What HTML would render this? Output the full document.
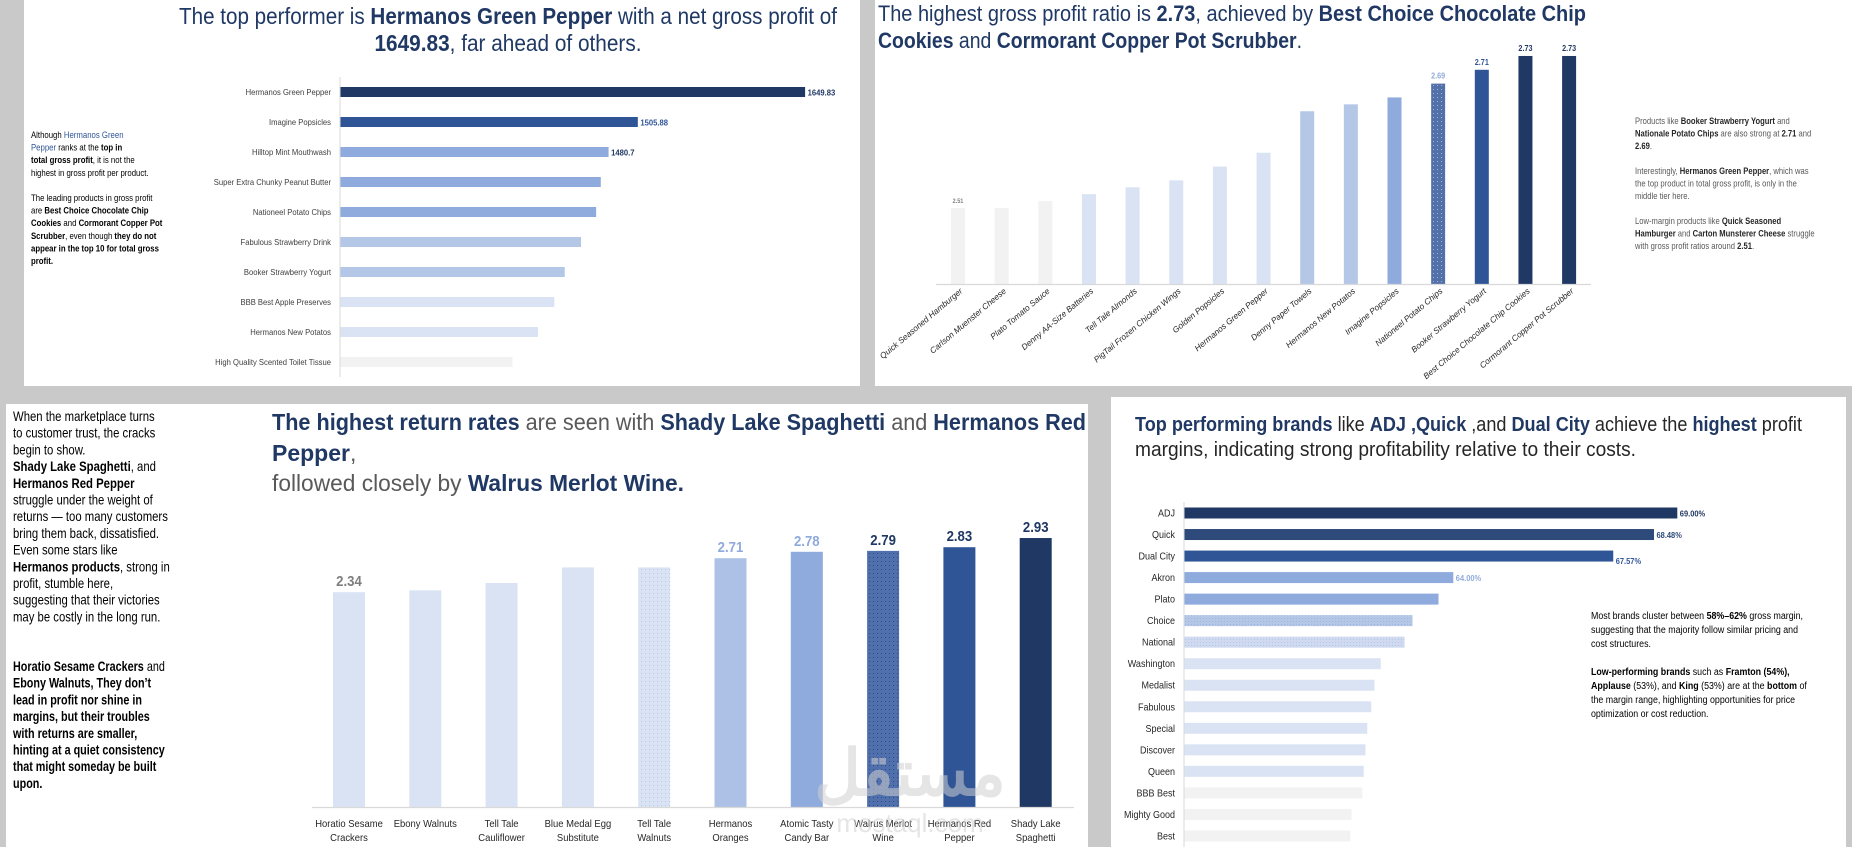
<!DOCTYPE html>
<html><head><meta charset="utf-8"><style>
html,body{margin:0;padding:0;background:#c9c9c9;}
svg{display:block;font-family:"Liberation Sans",sans-serif;}
</style></head><body>
<svg id="s" width="1852" height="847" viewBox="0 0 1852 847" xmlns="http://www.w3.org/2000/svg">
<defs>
<pattern id="dots1" width="4" height="4" patternUnits="userSpaceOnUse"><rect width="4" height="4" fill="#5470a8"/><rect x="1" y="1" width="1" height="1" fill="#9fb3d9"/></pattern>
<pattern id="dots2" width="4" height="4" patternUnits="userSpaceOnUse"><rect width="4" height="4" fill="#dae3f3"/><rect x="1" y="1" width="1" height="1" fill="#b9c9e6"/></pattern>
<pattern id="dots3" width="4" height="4" patternUnits="userSpaceOnUse"><rect width="4" height="4" fill="#4f6fad"/><rect x="1" y="1" width="1" height="1" fill="#2f4b7c"/></pattern>
<pattern id="hatch" width="3" height="3" patternUnits="userSpaceOnUse"><rect width="3" height="3" fill="#b4c7e7"/><rect width="1" height="1" fill="#9db4df"/></pattern>
<pattern id="dots4" width="3" height="3" patternUnits="userSpaceOnUse"><rect width="3" height="3" fill="#cfdaf0"/><rect width="1" height="1" fill="#b4c7e7"/></pattern>
</defs>
<rect x="0" y="0" width="1852" height="847" fill="#c9c9c9"/>
<rect x="24" y="0" width="836" height="386" fill="#fff"/>
<rect x="875" y="0" width="977" height="386" fill="#fff"/>
<rect x="6" y="404" width="1082" height="443" fill="#fff"/>
<rect x="1111" y="397" width="735" height="450" fill="#fff"/>
<g id="root"></g>
</svg>
<script>
// ---------- data ----------
const p1Cats = ["Hermanos Green Pepper","Imagine Popsicles","Hilltop Mint Mouthwash","Super Extra Chunky Peanut Butter","Nationeel Potato Chips","Fabulous Strawberry Drink","Booker Strawberry Yogurt","BBB Best Apple Preserves","Hermanos New Potatos","High Quality Scented Toilet Tissue"];
const p1Vals = [1649.83,1505.88,1480.7,1474,1470,1457,1443,1434,1420,1398];
const p1Labels = ["1649.83","1505.88","1480.7","","","","","","",""];

const p2Cats = ["Quick Seasoned Hamburger","Carlson Muenster Cheese","Plato Tomato Sauce","Denny AA-Size Batteries","Tell Tale Almonds","PigTail Frozen Chicken Wings","Golden Popsicles","Hermanos Green Pepper","Denny Paper Towels","Hermanos New Potatos","Imagine Popsicles","Nationeel Potato Chips","Booker Strawberry Yogurt","Best Choice Chocolate Chip Cookies","Cormorant Copper Pot Scrubber"];
const p2Vals = [2.51,2.51,2.52,2.53,2.54,2.55,2.57,2.59,2.65,2.66,2.67,2.69,2.71,2.73,2.73];
const p2Labels = ["2.51","","","","","","","","","","","2.69","2.71","2.73","2.73"];

const p3Cats = [["Horatio Sesame","Crackers"],["Ebony Walnuts",""],["Tell Tale","Cauliflower"],["Blue Medal Egg","Substitute"],["Tell Tale","Walnuts"],["Hermanos","Oranges"],["Atomic Tasty","Candy Bar"],["Walrus Merlot","Wine"],["Hermanos Red","Pepper"],["Shady Lake","Spaghetti"]];
const p3Vals = [2.34,2.36,2.44,2.61,2.61,2.71,2.78,2.79,2.83,2.93];
const p3Labels = ["2.34","","","","","2.71","2.78","2.79","2.83","2.93"];

const p4Cats = ["ADJ","Quick","Dual City","Akron","Plato","Choice","National","Washington","Medalist","Fabulous","Special","Discover","Queen","BBB Best","Mighty Good","Best"];
const p4Vals = [69.00,68.48,67.57,64.00,63.67,63.09,62.91,62.38,62.24,62.17,62.08,62.04,62.00,61.97,61.73,61.70];
const p4Labels = ["69.00%","68.48%","67.57%","64.00%","","","","","","","","","","","",""];

// ---------- helpers ----------
const NS="http://www.w3.org/2000/svg";
const root=document.getElementById('root');
function mk(tag,attrs,parent){const e=document.createElementNS(NS,tag);for(const k in attrs)e.setAttribute(k,attrs[k]);(parent||root).appendChild(e);return e;}
function txt(x,y,parts,size,opts,name){
  opts=opts||{};
  const g=mk('g',{transform:`translate(${x},${y}) scale(${opts.sx||1},1)`});
  const t=mk('text',{x:0,y:0,'font-size':size,'text-anchor':opts.anchor||'start',fill:opts.fill||'#262626'},g);
  
  
  if(opts.len){t.setAttribute('textLength',opts.len);t.setAttribute('lengthAdjust','spacingAndGlyphs');}
  if(opts.italic)t.setAttribute('font-style','italic');
  if(opts.bold)t.setAttribute('font-weight','bold');
  for(const p of parts){const s=mk('tspan',{},t);s.textContent=p[0];if(p[1])s.setAttribute('font-weight','bold');if(p[2])s.setAttribute('fill',p[2]);}
  return t;
}
const D="#203864", M="#2f5597", G="#595959";

// ---------- panel 1 ----------
txt(179,24,[["The top performer is ",0,"#1f3864"],["Hermanos Green Pepper",1,D],[" with a net gross profit of",0,"#1f3864"]],23,{len:658},'title-top-performer-line1');
txt(508,51,[["1649.83",1,D],[", far ahead of others.",0,"#1f3864"]],23,{anchor:'middle',len:267},'title-top-performer-line2');
const p1Col=["#203864","#2f5597","#8faadc","#8faadc","#8faadc","#b4c7e7","#b4c7e7","#dae3f3","#dae3f3","#f2f2f2"];
const p1x0=340, p1min=1250, p1k=1.162;
function p1X(v){return p1x0+(v-p1min)*p1k;}
function p1Y(i){return 92+i*30;}
mk('line',{x1:p1x0,y1:77,x2:p1x0,y2:377,stroke:'#d9d9d9','stroke-width':1});
p1Cats.forEach((c,i)=>{
  const b=mk('rect',{x:p1x0+0.5,y:p1Y(i)-5,width:p1X(p1Vals[i])-p1x0,height:10,fill:p1Col[i]});
  
  
  txt(331,p1Y(i)+3,[[c]],8.5,{anchor:'end',fill:'#404040',sx:0.9},'category-label');
  if(p1Labels[i])txt(p1X(p1Vals[i])+3,p1Y(i)+3.5,[[p1Labels[i]]],8.5,{bold:1,fill:i==1?M:D,sx:0.9},'value-label');
});
const s1=[
 [["Although "],["Hermanos Green",0,M]],
 [["Pepper",0,M],[" ranks at the "],["top in",1]],
 [["total gross profit",1],[", it is not the"]],
 [["highest in gross profit per product."]],
 null,
 [["The leading products in gross profit"]],
 [["are "],["Best Choice Chocolate Chip",1]],
 [["Cookies",1],[" and "],["Cormorant Copper Pot",1]],
 [["Scrubber",1],[", even though "],["they do not",1]],
 [["appear in the top 10 for total gross",1]],
 [["profit.",1]]];
s1.forEach((l,i)=>{if(l)txt(31,138+i*12.6,l,9.5,{fill:'#000',sx:0.82},'insight-note-line');});

// ---------- panel 2 ----------
txt(878,21,[["The highest gross profit ratio is ",0,"#1f3864"],["2.73",1,D],[", achieved by ",0,"#1f3864"],["Best Choice Chocolate Chip",1,D]],22,{len:708},'title-profit-ratio-line1');
txt(878,48,[["Cookies",1,D],[" and ",0,"#1f3864"],["Cormorant Copper Pot Scrubber",1,D],[".",0,"#1f3864"]],22,{len:424},'title-profit-ratio-line2');
const p2Col=["#f2f2f2","#f2f2f2","#f2f2f2","#dae3f3","#dae3f3","#dae3f3","#dae3f3","#dae3f3","#b4c7e7","#b4c7e7","#8faadc","url(#dots1)","#2f5597","#203864","#203864"];
const p2LCol=["#7f7f7f","","","","","","","","","","","#8faadc",M,D,D];
const p2base=284, p2min=2.40, p2k=691;
function p2Xc(i){return 958+i*43.65;}
function p2Y(v){return p2base-(v-p2min)*p2k;}
p2Cats.forEach((c,i)=>{
  const b=mk('rect',{x:p2Xc(i)-7,y:p2Y(p2Vals[i]),width:14,height:p2base-p2Y(p2Vals[i]),fill:p2Col[i]});
  
  
  if(p2Labels[i])txt(p2Xc(i),p2Y(p2Vals[i])-5,[[p2Labels[i]]],i==0?6.5:8.5,{anchor:'middle',bold:1,fill:p2LCol[i],sx:0.85},'value-label');
  const t=txt(0,0,[[c]],8.3,{anchor:'end',italic:1,fill:'#262626'},'category-label');
  t.parentNode.setAttribute('transform',`translate(${p2Xc(i)+5},${p2base+8}) rotate(-40)`);
});
mk('line',{x1:936,y1:p2base+0.5,x2:1591,y2:p2base+0.5,stroke:'#d9d9d9','stroke-width':1.2});
const s2=[
 [["Products like ",0,G],["Booker Strawberry Yogurt",1,"#262626"],[" and",0,G]],
 [["Nationale Potato Chips",1,"#262626"],[" are also strong at ",0,G],["2.71",1,"#262626"],[" and",0,G]],
 [["2.69",1,"#262626"],[".",0,G]],
 null,
 [["Interestingly, ",0,G],["Hermanos Green Pepper",1,"#262626"],[", which was",0,G]],
 [["the top product in total gross profit",0,G],[", is only in the",0,G]],
 [["middle tier here.",0,G]],
 null,
 [["Low-margin products like ",0,G],["Quick Seasoned",1,"#262626"]],
 [["Hamburger",1,"#262626"],[" and ",0,G],["Carton Munsterer Cheese",1,"#262626"],[" struggle",0,G]],
 [["with gross profit ratios around ",0,G],["2.51",1,"#262626"],[".",0,G]]];
s2.forEach((l,i)=>{if(l)txt(1635,124+i*12.5,l,9.3,{sx:0.82},'insight-note-line');});

// ---------- panel 3 ----------
txt(272,430,[["The highest return rates",1,D],[" are seen with ",0,G],["Shady Lake Spaghetti",1,D],[" and ",0,G],["Hermanos Red",1,D]],23,{len:814},'title-return-rates-line1');
txt(272,461,[["Pepper",1,D],[",",0,G]],23,{},'title-return-rates-line2');
txt(272,491,[["followed closely by ",0,G],["Walrus Merlot Wine.",1,D]],23,{len:412},'title-return-rates-line3');
const p3Col=["#dae3f3","#dae3f3","#dae3f3","#dae3f3","url(#dots2)","#adc0e5","#8faadc","url(#dots3)","#2f5597","#203864"];
const p3LCol=["#7f7f7f","","","","","#8faadc","#8faadc",D,D,D];
const p3base=807, p3k=91.8;
function p3Xc(i){return 349+i*76.3;}
function p3Y(v){return p3base-v*p3k;}
p3Cats.forEach((c,i)=>{
  const b=mk('rect',{x:p3Xc(i)-16,y:p3Y(p3Vals[i]),width:32,height:p3base-p3Y(p3Vals[i]),fill:p3Col[i]});
  
  
  if(p3Labels[i])txt(p3Xc(i),p3Y(p3Vals[i])-6,[[p3Labels[i]]],15,{anchor:'middle',bold:1,fill:p3LCol[i],sx:0.88},'value-label');
  txt(p3Xc(i),827,[[c[0]]],10.5,{anchor:'middle',sx:0.9,fill:'#262626'},'category-label');
  if(c[1])txt(p3Xc(i),841,[[c[1]]],10.5,{anchor:'middle',sx:0.9,fill:'#262626'},'category-label');
});
mk('line',{x1:312,y1:p3base+0.5,x2:1074,y2:p3base+0.5,stroke:'#d9d9d9','stroke-width':1.2});
const s3=[
 [["When the marketplace turns"]],[["to customer trust, the cracks"]],[["begin to show."]],
 [[" Shady Lake Spaghetti",1],[", and"]],[["Hermanos Red Pepper",1]],[["struggle under the weight of"]],
 [["returns — too many customers"]],[["bring them back, dissatisfied."]],[[" Even some stars like"]],
 [["Hermanos products",1],[", strong in"]],[["profit, stumble here,"]],[["suggesting that their victories"]],
 [["may be costly in the long run."]]];
s3.forEach((l,i)=>txt(13,421+i*16.7,l,13.5,{fill:'#000',sx:0.84},'insight-note-line'));
const s3b=[
 [["Horatio Sesame Crackers",1],[" and"]],[["Ebony Walnuts, They don’t",1]],[["lead in profit nor shine in",1]],
 [["margins, but their troubles",1]],[["with returns are smaller,",1]],[["hinting at a quiet consistency",1]],
 [["that might someday be built",1]],[["upon.",1]]];
s3b.forEach((l,i)=>txt(13,671+i*16.7,l,13.5,{fill:'#000',sx:0.8},'insight-note-line'));
const wm=txt(910,795,[["مستقل"]],64,{anchor:'middle',bold:1,fill:'#d0d0d0'},'watermark');
wm.setAttribute('opacity','0.55');
const wm2=txt(910,832,[["mostaql.com"]],26,{anchor:'middle',fill:'#d0d0d0'},'watermark-url');
wm2.setAttribute('opacity','0.55');

// ---------- panel 4 ----------
txt(1135,431,[["Top performing brands",1,D],[" like ",0,"#262626"],["ADJ ,Quick",1,D],[" ,and ",0,"#262626"],["Dual City",1,D],["  achieve the ",0,"#262626"],["highest",1,D],[" profit",0,"#262626"]],20,{len:667},'title-brand-margins-line1');
txt(1135,456,[["margins, indicating strong profitability relative to their costs."]],20,{len:501,fill:'#262626'},'title-brand-margins-line2');
const p4Col=["#203864","#2e4a7a","#2f5597","#8faadc","#8faadc","url(#hatch)","url(#dots4)","#dae3f3","#dae3f3","#dae3f3","#dae3f3","#dae3f3","#dae3f3","#f2f2f2","#f2f2f2","#f2f2f2"];
const p4LCol=[D,"#2e4a7a",M,"#8faadc"];
const p4x0=1184, p4min=58, p4k=44.8;
function p4X(v){return p4x0+(v-p4min)*p4k;}
function p4Y(i){return 513+i*21.53;}
mk('line',{x1:p4x0,y1:502,x2:p4x0,y2:847,stroke:'#d9d9d9','stroke-width':1});
p4Cats.forEach((c,i)=>{
  const b=mk('rect',{x:p4x0+0.5,y:p4Y(i)-5.5,width:p4X(p4Vals[i])-p4x0,height:11,fill:p4Col[i]});
  
  
  txt(1175,p4Y(i)+3.5,[[c]],9.8,{anchor:'end',fill:'#262626',sx:0.92},'category-label');
  if(p4Labels[i])txt(p4X(p4Vals[i])+3,p4Y(i)+(i==2?8:3.5),[[p4Labels[i]]],8.5,{bold:1,fill:p4LCol[i],sx:0.88},'value-label');
});
const s4=[
 [["Most brands cluster between "],["58%–62%",1],[" gross margin,"]],
 [["suggesting that the majority follow similar pricing and"]],
 [["cost structures."]],
 null,
 [["Low-performing brands",1],[" such as "],["Framton (54%),",1]],
 [["Applause",1],[" (53%), and "],["King",1],[" (53%) are at the "],["bottom",1],[" of"]],
 [["the margin range, highlighting opportunities for price"]],
 [["optimization or cost reduction."]]];
s4.forEach((l,i)=>{if(l)txt(1591,619+i*14,l,10.3,{fill:'#000',sx:0.86},'insight-note-line');});
</script>
</body></html>
